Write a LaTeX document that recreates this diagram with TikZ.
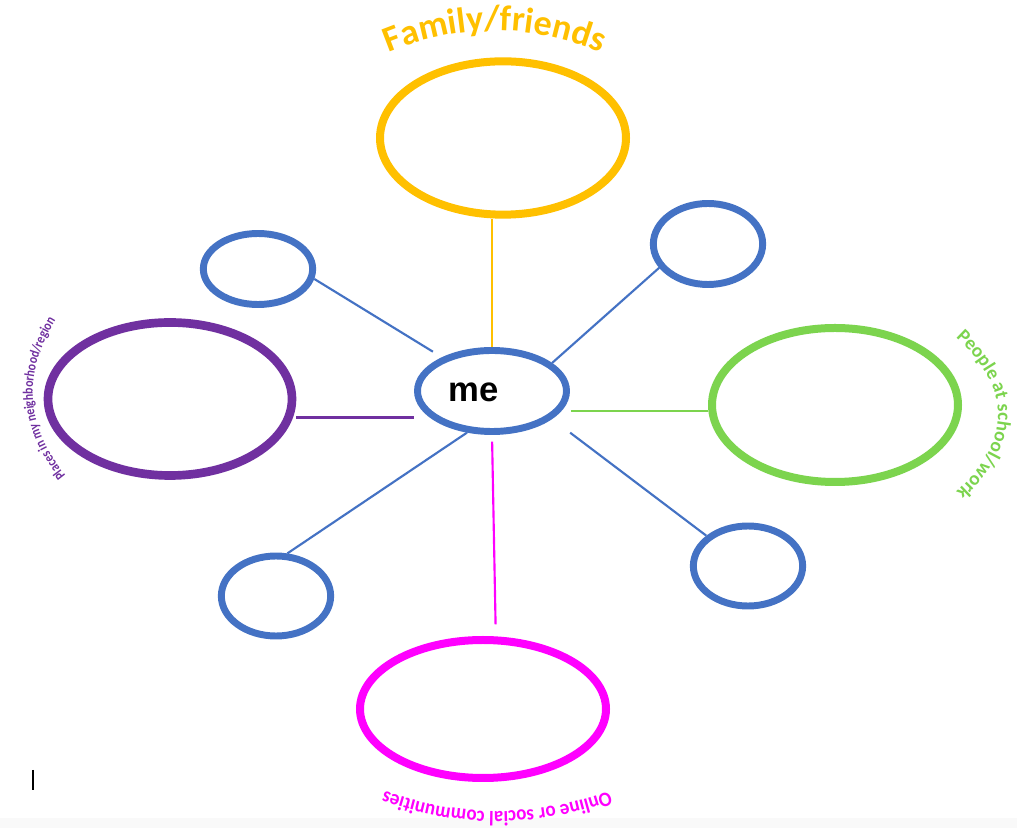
\documentclass[tikz,border=0pt]{standalone}
\usepackage{fontspec}
\newfontfamily\artfont{Carlito}
\newfontfamily\artnarrow{Carlito}[FakeStretch=0.84]
\newfontfamily\artwide{Carlito}[FakeStretch=0.92]
\newfontfamily\mefont{Liberation Sans}
\usetikzlibrary{shapes.geometric,decorations.text}
\definecolor{Gold}{HTML}{FFC000}
\definecolor{Royal}{HTML}{4472C4}
\definecolor{Plum}{HTML}{7030A0}
\definecolor{Lime}{HTML}{7CD44E}
\definecolor{Pink}{HTML}{FF00FF}
\definecolor{Paper}{HTML}{F9F9F9}
\tikzset{
  ring/.style={ellipse,draw=#1,fill=white,line width=6pt,inner sep=0pt,minimum width=184.5pt,minimum height=115pt},
  bubble/.style={ellipse,draw=Royal,fill=white,line width=5.2pt,inner sep=0pt,minimum width=82pt,minimum height=60pt},
  spoke/.style={draw=#1,line width=1.6pt},
  arch/.style={decorate,decoration={text along path,text align=center}}
}

\begin{document}
\begin{tikzpicture}[x=.75pt,y=.75pt]
  \useasboundingbox (0,0) rectangle (1017,828);
  \fill[white] (0,0) rectangle (1017,828);
  \fill[Paper] (0,0) rectangle (1017,10);
  \node[ring=Gold] (fam) at (503,690) {};
  \node[ring=Plum,minimum width=183pt,minimum height=114.75pt,line width=6.5pt] (pu) at (170,429) {};
  \node[ring=Lime,minimum height=115.5pt] (gr) at (835,423) {};
  \node[ring=Pink,minimum height=103.5pt] (on) at (483,119) {};
  \node[bubble,minimum height=53.25pt] (ul) at (258,559) {};
  \node[bubble,minimum height=60.75pt] (ur) at (708,584) {};
  \node[bubble] (ll) at (276,232) {};
  \node[bubble] (lr) at (748,262) {};
  \node[bubble,minimum width=111.75pt,minimum height=60.75pt,label={[font=\mefont\bfseries\fontsize{26}{26}\selectfont,xshift=-13.5pt,yshift=-.75pt]center:me}] (me) at (492,437) {};
  \draw[spoke=Gold] (me.north) -- (me.north |- fam.south);
  \draw[spoke=Pink,shorten <=5pt,shorten >=9pt] (me.south) -- (on.80);
  \draw[spoke=Lime,shorten <=7pt] (me.-16) -- (me.-16 -| gr.west);
  \draw[spoke=Plum,shorten <=12pt] (me.203) -- (me.203 -| pu.east);
  \draw[spoke=Royal,shorten >=8pt] (ul.-10) -- (me.146);
  \draw[spoke=Royal] (me.25) -- (ur.206);
  \draw[spoke=Royal,shorten <=17pt] (me.-25) -- (lr.144);
  \draw[spoke=Royal] (me.239) -- (ll.75);
  \path[arch,decoration={text={|\artfont\bfseries\fontsize{27}{27}\selectfont\color{Gold}|Family/friends}}] (368,766) .. controls (453,808) and (537,808) .. (622,766);
  \path[arch,decoration={text={|\artfont\bfseries\fontsize{14.5}{14.5}\selectfont\color{Lime}|People at school/work}}] (941,503) .. controls (1017,443) and (1017,383) .. (941,323);
  \path[arch,decoration={text={|\artnarrow\bfseries\fontsize{10.5}{10.5}\selectfont\color{Plum}|Places in my neighborhood/region}}] (78,338) .. controls (22,397) and (18,458) .. (66,523);
  \path[arch,decoration={text={|\artwide\bfseries\fontsize{15.5}{15.5}\selectfont\color{Pink}|Online or social communities}}] (632,46) .. controls (542,7) and (452,7) .. (362,46);
  \draw[line width=1pt] (33,58) -- (33,38);
\end{tikzpicture}
\end{document}
